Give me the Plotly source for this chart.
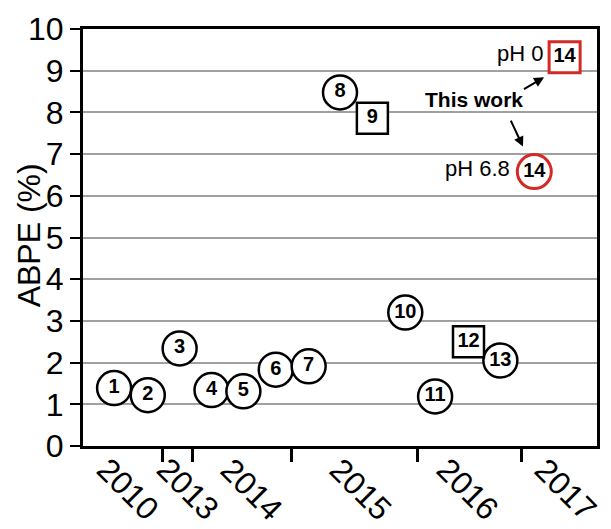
import plotly.graph_objects as go

# ---- data ----
labels = ["1", "2", "3", "4", "5", "6", "7", "8", "9", "10", "11", "12", "13", "14", "14"]
xpos = [6.05, 12.6, 18.8, 25.0, 31.2, 37.5, 43.9, 50.0, 56.3, 62.7, 68.5, 75.0, 81.2, 87.8, 93.7]
abpe = [1.39, 1.22, 2.34, 1.34, 1.31, 1.83, 1.91, 8.48, 7.86, 3.2, 1.19, 2.5, 2.05, 6.58, 9.32]
shapes_kind = (["circle"] * 8 + ["square"] + ["circle"] * 2 + ["square"] + ["circle"]
               + ["circle", "square"])
this_work = [False] * 13 + [True, True]

year_bounds = [15.5, 21.3, 40.6, 65.0, 85.3]
years = ["2010", "2013", "2014", "2015", "2016", "2017"]
year_centers = [8.7, 20.4, 32.7, 53.9, 74.8, 93.8]
yticks = list(range(0, 11))

RED = "#d42a25"
FONT = "Arial, Liberation Sans, sans-serif"

fig = go.Figure()

for kind in ["circle", "square"]:
    for tw in [False, True]:
        idx = [i for i in range(len(labels)) if shapes_kind[i] == kind and this_work[i] == tw]
        if not idx:
            continue
        fig.add_trace(go.Scatter(
            x=[xpos[i] for i in idx],
            y=[abpe[i] for i in idx],
            text=[labels[i] for i in idx],
            mode="markers+text",
            textposition="middle center",
            textfont=dict(family=FONT, size=20, color="black", weight="bold"),
            marker=dict(
                symbol=kind,
                size=34 if kind == "circle" else 31,
                color="white",
                line=dict(color=RED if tw else "black", width=3 if tw else 2.5),
            ),
            showlegend=False,
            cliponaxis=False,
        ))

annotations = []
for yr, xc in zip(years, year_centers):
    annotations.append(dict(
        x=xc, y=-0.104, xref="x", yref="paper", text=yr, showarrow=False,
        textangle=45, font=dict(family=FONT, size=32, color="black"),
        xanchor="center", yanchor="middle",
    ))

annotations.append(dict(
    x=-0.106, y=0.504, xref="paper", yref="paper", text="ABPE (%)", showarrow=False,
    textangle=-90, font=dict(family=FONT, size=32, color="black"),
    xanchor="center", yanchor="middle",
))

annotations += [
    dict(x=89.9, y=9.42, xref="x", yref="y", text="pH 0", showarrow=False,
         xanchor="right", yanchor="middle", font=dict(family=FONT, size=22, color="black")),
    dict(x=83.4, y=6.65, xref="x", yref="y", text="pH 6.8", showarrow=False,
         xanchor="right", yanchor="middle", font=dict(family=FONT, size=22, color="black")),
    dict(x=76.0, y=8.3, xref="x", yref="y", text="<b>This work</b>", showarrow=False,
         xanchor="center", yanchor="middle", font=dict(family=FONT, size=21, color="black")),
    dict(x=89.7, y=8.84, ax=85.5, ay=8.54, xref="x", yref="y", axref="x", ayref="y",
         text="", showarrow=True, arrowhead=2, arrowsize=1, arrowwidth=2, arrowcolor="black"),
    dict(x=85.6, y=7.18, ax=83.1, ay=7.84, xref="x", yref="y", axref="x", ayref="y",
         text="", showarrow=True, arrowhead=2, arrowsize=1, arrowwidth=2, arrowcolor="black"),
]

fig.update_layout(
    width=611, height=529,
    margin=dict(l=83, r=11, t=29, b=82.5),
    plot_bgcolor="white", paper_bgcolor="white",
    annotations=annotations,
    font=dict(family=FONT, color="black"),
)

fig.update_xaxes(
    range=[0, 100], tickmode="array", tickvals=year_bounds, showticklabels=False,
    ticks="outside", ticklen=13, tickwidth=3, tickcolor="black",
    showline=True, linewidth=3, linecolor="black", mirror=True,
    showgrid=False, zeroline=False,
)
fig.update_yaxes(
    range=[0, 10], tickmode="array", tickvals=yticks,
    ticks="outside", ticklen=10, tickwidth=2, tickcolor="black",
    tickfont=dict(family=FONT, size=32, color="black"),
    showline=True, linewidth=3, linecolor="black", mirror=True,
    showgrid=True, gridcolor="#a0a0a0", gridwidth=1.5, zeroline=False,
)

fig.write_html("out.html")
